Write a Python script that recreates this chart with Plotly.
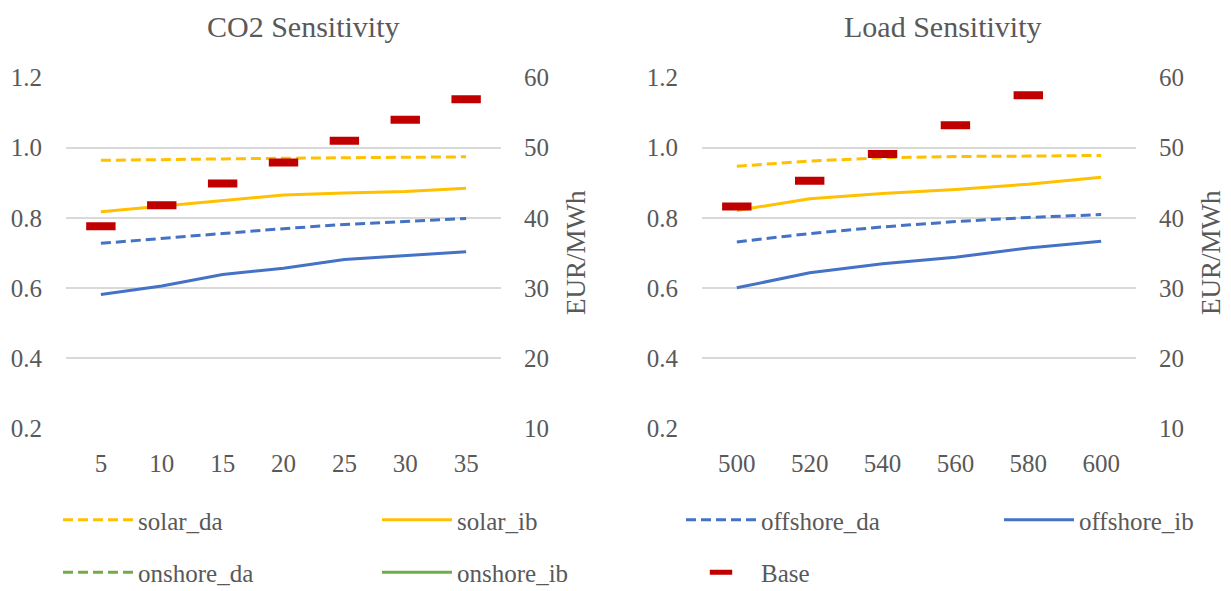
import plotly.graph_objects as go
from plotly.subplots import make_subplots

# ---- data ----
co2_cats = ["5", "10", "15", "20", "25", "30", "35"]
co2_solar_da = [0.964, 0.967, 0.968, 0.970, 0.971, 0.971, 0.974]
co2_solar_ib = [0.817, 0.833, 0.850, 0.865, 0.871, 0.875, 0.884]
co2_offshore_da = [0.727, 0.740, 0.755, 0.769, 0.781, 0.789, 0.798]
co2_offshore_ib = [0.581, 0.605, 0.638, 0.656, 0.681, 0.692, 0.703]
co2_onshore_da = [None] * 7
co2_onshore_ib = [None] * 7
co2_base = [38.8, 41.8, 44.9, 47.9, 51.0, 54.0, 56.9]

load_cats = ["500", "520", "540", "560", "580", "600"]
load_solar_da = [0.947, 0.962, 0.971, 0.975, 0.976, 0.978]
load_solar_ib = [0.821, 0.854, 0.869, 0.881, 0.896, 0.916]
load_offshore_da = [0.731, 0.755, 0.774, 0.789, 0.801, 0.809]
load_offshore_ib = [0.600, 0.643, 0.669, 0.687, 0.714, 0.733]
load_onshore_da = [None] * 6
load_onshore_ib = [None] * 6
load_base = [41.6, 45.3, 49.1, 53.2, 57.5, None]

left_ticks = [0.2, 0.4, 0.6, 0.8, 1.0, 1.2]
right_ticks = [10, 20, 30, 40, 50, 60]

# ---- styles ----
YEL = "#FFC000"
BLU = "#4472C4"
GRN = "#70AD47"
RED = "#C00000"
TXT = "#595959"
FONT = "'Liberation Serif', 'Times New Roman', Times, serif"
DASH = "10px,5px"
W = 1231
H = 591
OFF = 8  # page body margin


def px(x):
    return (x - OFF) / W


def py(y):
    return 1 - (y - OFF) / H


fig = make_subplots(rows=1, cols=2, specs=[[{"secondary_y": True}, {"secondary_y": True}]])

series = [
    ("solar_da", YEL, DASH, "legend", co2_solar_da, load_solar_da),
    ("solar_ib", YEL, "solid", "legend2", co2_solar_ib, load_solar_ib),
    ("offshore_da", BLU, DASH, "legend3", co2_offshore_da, load_offshore_da),
    ("offshore_ib", BLU, "solid", "legend4", co2_offshore_ib, load_offshore_ib),
    ("onshore_da", GRN, DASH, "legend", co2_onshore_da, load_onshore_da),
    ("onshore_ib", GRN, "solid", "legend2", co2_onshore_ib, load_onshore_ib),
]

for col, cats in ((1, co2_cats), (2, load_cats)):
    for name, color, dash, leg, v1, v2 in series:
        vals = v1 if col == 1 else v2
        fig.add_trace(
            go.Scatter(
                x=cats, y=vals, name=name, mode="lines",
                line=dict(color=color, width=3, dash=dash),
                legend=leg, legendgroup=name, showlegend=(col == 1),
            ),
            row=1, col=col, secondary_y=False,
        )
    base = co2_base if col == 1 else load_base
    fig.add_trace(
        go.Scatter(
            x=cats, y=base, name="Base", mode="markers",
            marker=dict(symbol="line-ew", size=21, color=RED,
                        line=dict(color=RED, width=8)),
            legend="legend3", legendgroup="Base", showlegend=(col == 1),
        ),
        row=1, col=col, secondary_y=True,
    )

ydom = [py(428.3), py(77.3)]
x1dom = [px(66), px(501)]
x2dom = [px(702), px(1136)]

tickfont = dict(family=FONT, size=25, color=TXT)

common_x = dict(type="category", showgrid=False, zeroline=False, showline=False,
                ticks="", tickfont=tickfont, ticklabelstandoff=18, automargin=False)
fig.update_layout(
    xaxis=dict(domain=x1dom, **common_x),
    xaxis2=dict(domain=x2dom, **common_x),
)

common_y = dict(domain=ydom, range=[0.199, 1.201], tickvals=left_ticks,
                ticktext=["%.1f" % v for v in left_ticks],
                showgrid=True, gridcolor="#D9D9D9", gridwidth=2,
                zeroline=False, showline=False, ticks="", tickfont=tickfont,
                ticklabelstandoff=23, automargin=False)
common_y2 = dict(range=[9.95, 60.05], tickvals=right_ticks, showgrid=False,
                 zeroline=False, showline=False, ticks="", tickfont=tickfont,
                 ticklabelstandoff=22, automargin=False,
                 title=dict(text="EUR/MWh", font=dict(family=FONT, size=27, color=TXT),
                            standoff=18))
fig.update_layout(
    yaxis=common_y,
    yaxis3=common_y,
    yaxis2=common_y2,
    yaxis4=common_y2,
)

legfont = dict(family=FONT, size=25, color=TXT)
leg_common = dict(orientation="v", yanchor="top", xanchor="left", font=legfont,
                  itemwidth=70, traceorder="grouped", tracegroupgap=17,
                  bgcolor="rgba(0,0,0,0)", borderwidth=0, itemclick=False)
text_x = [138, 457, 761, 1079]
leg_y = py(497)
fig.update_layout(
    legend=dict(x=px(text_x[0] - 80), y=leg_y, **leg_common),
    legend2=dict(x=px(text_x[1] - 80), y=leg_y, **leg_common),
    legend3=dict(x=px(text_x[2] - 80), y=leg_y, **leg_common),
    legend4=dict(x=px(text_x[3] - 80), y=leg_y, **leg_common),
)

titlefont = dict(family=FONT, size=30, color=TXT)
fig.update_layout(
    annotations=[
        dict(text="CO2 Sensitivity", x=px(303), y=py(27), xref="paper", yref="paper",
             xanchor="center", yanchor="middle", showarrow=False, font=titlefont),
        dict(text="Load Sensitivity", x=px(943), y=py(27), xref="paper", yref="paper",
             xanchor="center", yanchor="middle", showarrow=False, font=titlefont),
    ],
    width=W, height=H, margin=dict(l=0, r=0, t=0, b=0, autoexpand=False),
    paper_bgcolor="white", plot_bgcolor="white",
)

fig.write_html("out.html")
